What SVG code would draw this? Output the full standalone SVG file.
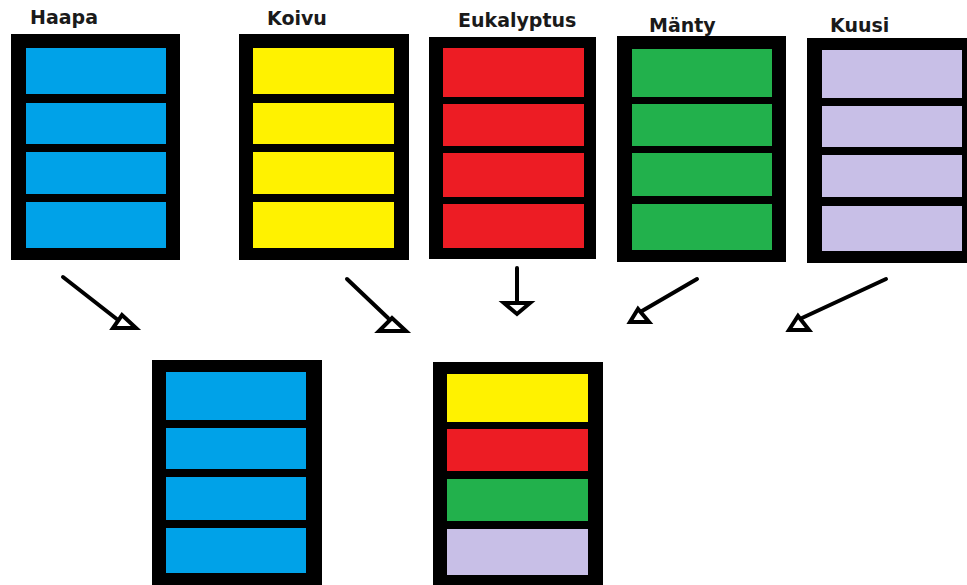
<svg xmlns="http://www.w3.org/2000/svg" width="967" height="585" viewBox="0 0 967 585">
<style>
.frame{fill:#000}
.lbl{font-family:"DejaVu Sans",sans-serif;font-weight:bold;font-size:19px;fill:#1a1a1a}
.b{fill:#00A2E8}.y{fill:#FFF200}.r{fill:#ED1C24}.g{fill:#22B14C}.l{fill:#C8BFE7}
.ln{stroke:#000;stroke-width:4;fill:none;stroke-linecap:round}
.hd{stroke:#000;stroke-width:4;fill:#fff;stroke-linejoin:miter}
</style>
<rect width="967" height="585" fill="#fff"/>
<g id="haapa">
<text class="lbl" x="30" y="24">Haapa</text>
<rect class="frame" x="11" y="34" width="169" height="226"/>
<rect class="b" x="26" y="48" width="140" height="46"/>
<rect class="b" x="26" y="103" width="140" height="41"/>
<rect class="b" x="26" y="152" width="140" height="42"/>
<rect class="b" x="26" y="202" width="140" height="46"/>
</g>
<g id="koivu">
<text class="lbl" x="267" y="25">Koivu</text>
<rect class="frame" x="239" y="34" width="170" height="226"/>
<rect class="y" x="253" y="48" width="141" height="46"/>
<rect class="y" x="253" y="103" width="141" height="41"/>
<rect class="y" x="253" y="152" width="141" height="42"/>
<rect class="y" x="253" y="202" width="141" height="46"/>
</g>
<g id="eukalyptus">
<text class="lbl" x="458" y="27">Eukalyptus</text>
<rect class="frame" x="429" y="37" width="167" height="222"/>
<rect class="r" x="443" y="48" width="141" height="49"/>
<rect class="r" x="443" y="104" width="141" height="42"/>
<rect class="r" x="443" y="153" width="141" height="44"/>
<rect class="r" x="443" y="204" width="141" height="44"/>
</g>
<g id="manty">
<text class="lbl" x="649" y="32">Mänty</text>
<rect class="frame" x="617" y="36" width="169" height="226"/>
<rect class="g" x="632" y="49" width="140" height="48"/>
<rect class="g" x="632" y="104" width="140" height="42"/>
<rect class="g" x="632" y="153" width="140" height="43"/>
<rect class="g" x="632" y="204" width="140" height="46"/>
</g>
<g id="kuusi">
<text class="lbl" x="830" y="32">Kuusi</text>
<rect class="frame" x="807" y="38" width="160" height="225"/>
<rect class="l" x="822" y="50" width="140" height="48"/>
<rect class="l" x="822" y="106" width="140" height="41"/>
<rect class="l" x="822" y="155" width="140" height="42"/>
<rect class="l" x="822" y="206" width="140" height="45"/>
</g>
<g id="result-haapa">
<rect class="frame" x="152" y="360" width="170" height="225"/>
<rect class="b" x="166" y="372" width="140" height="48"/>
<rect class="b" x="166" y="428" width="140" height="41"/>
<rect class="b" x="166" y="477" width="140" height="43"/>
<rect class="b" x="166" y="528" width="140" height="45"/>
</g>
<g id="result-mixed">
<rect class="frame" x="433" y="362" width="170" height="223"/>
<rect class="y" x="447" y="374" width="141" height="48"/>
<rect class="r" x="447" y="429" width="141" height="42"/>
<rect class="g" x="447" y="479" width="141" height="42"/>
<rect class="l" x="447" y="529" width="141" height="46"/>
</g>
<g id="connectors">
<line class="ln" x1="63" y1="277" x2="118" y2="320"/>
<polygon class="hd" points="113,328 136,328 122,315"/>
<line class="ln" x1="347" y1="279" x2="388" y2="318"/>
<polygon class="hd" points="379,331 406,331 392,318"/>
<line class="ln" x1="517" y1="268" x2="517" y2="303"/>
<polygon class="hd" points="504,303 530,303 517,314"/>
<line class="ln" x1="697" y1="279" x2="642" y2="311"/>
<polygon class="hd" points="630,322 649,322 638,309"/>
<line class="ln" x1="886" y1="279" x2="802" y2="318"/>
<polygon class="hd" points="789,330 809,330 798,316"/>
</g>
</svg>
